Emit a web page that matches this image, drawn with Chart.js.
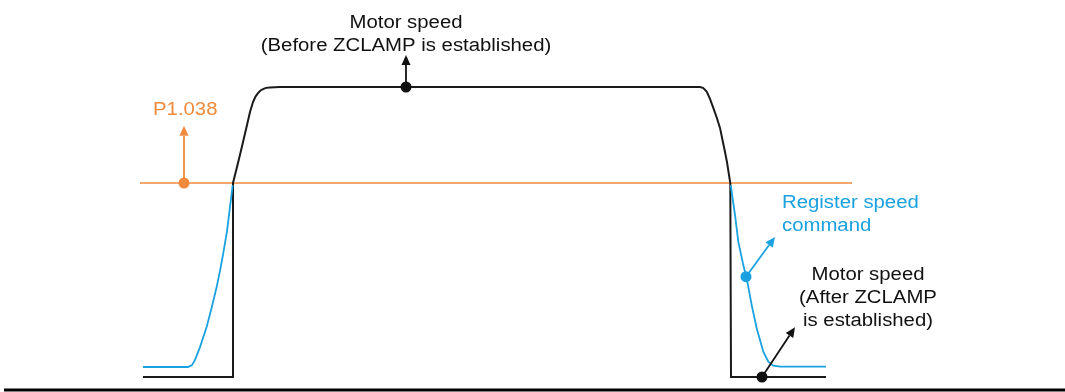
<!DOCTYPE html>
<html>
<head>
<meta charset="utf-8">
<script src="https://cdn.jsdelivr.net/npm/chart.js@4"></script>
<style>
html,body{margin:0;padding:0;background:#fff;}
canvas{display:block;}
</style>
</head>
<body>
<canvas id="c" width="1065" height="392"></canvas>
<script>
// Time axis (arbitrary units) and speed (% of max speed)
const motorBeforeT = [143,233,233,236.5,240,243.5,247,250,253,255.5,258,260.5,263,266,270,280,700,703,706.7,710,713.3,716.7,720,722.5,725,727,728.5,730.3,731,826];
const motorBeforeV = [0,0,66.9,71.7,76.6,81.7,86.9,91.4,94.8,96.7,97.9,98.8,99.3,99.7,99.8,100,100,99.7,98.4,95.9,92.8,89.5,85.9,81.7,77.6,74.1,70.7,66.9,0,0];
const registerRiseT = [143,188,192,195,200,206.7,211.7,216.7,220,223.3,227,230,232.7];
const registerRiseV = [3.45,3.45,4.1,5.9,10.3,17.3,24,31.1,36.6,42.7,50.3,58.7,66.2];
const registerFallT = [730.7,735,738.3,743.3,746.7,751.7,756.7,763.3,768.3,773.3,780,826];
const registerFallV = [66.2,55.9,46.7,38.6,34.0,24.8,16.8,8.7,5.3,3.9,3.6,3.6];
const thresholdT = [140,852];
const thresholdV = 66.9;           // P1.038 level
const markers = [
  {t:406, v:100,  color:'#111111', tip:[406,111.0]},
  {t:184, v:66.9, color:'#f08a3c', tip:[184,86.6]},
  {t:746, v:34.6, color:'#1aa1e0', tip:[775,48.3]},
  {t:762, v:0,    color:'#111111', tip:[795,17.2]}
];
const notes = [
  {lines:['Motor speed','(Before ZCLAMP is established)'], t:406, v:120.3, align:'center', color:'#111111'},
  {lines:['P1.038'], t:153, v:90.3, align:'left', color:'#f08a3c'},
  {lines:['Register speed','command'], t:782, v:58.3, align:'left', color:'#1aa1e0'},
  {lines:['Motor speed','(After ZCLAMP','is established)'], t:868, v:33.4, align:'center', color:'#111111'}
];

const toXY = (ts, vs) => ts.map((t,i)=>({x:t, y:Array.isArray(vs)?vs[i]:vs}));

const annot = {
  id:'annot',
  afterDatasetsDraw(chart){
    const {ctx, scales:{x,y}} = chart;
    ctx.save();
    // baseline rule
    ctx.strokeStyle = '#000'; ctx.lineWidth = 3;
    ctx.beginPath(); ctx.moveTo(x.getPixelForValue(4), y.getPixelForValue(-4.48));
    ctx.lineTo(x.getPixelForValue(1065), y.getPixelForValue(-4.48)); ctx.stroke();
    // arrows
    markers.forEach(m=>{
      const x0 = x.getPixelForValue(m.t), y0 = y.getPixelForValue(m.v);
      const x1 = x.getPixelForValue(m.tip[0]), y1 = y.getPixelForValue(m.tip[1]);
      const ang = Math.atan2(y1-y0, x1-x0);
      const L = 10, W = 4.5;
      const bx = x1 - L*Math.cos(ang), by = y1 - L*Math.sin(ang);
      ctx.strokeStyle = m.color; ctx.fillStyle = m.color; ctx.lineWidth = 1.8;
      ctx.beginPath(); ctx.moveTo(x0,y0); ctx.lineTo(bx,by); ctx.stroke();
      ctx.beginPath(); ctx.moveTo(x1,y1);
      ctx.lineTo(bx + W*Math.sin(ang), by - W*Math.cos(ang));
      ctx.lineTo(bx - W*Math.sin(ang), by + W*Math.cos(ang));
      ctx.closePath(); ctx.fill();
    });
    // texts
    ctx.font = '18px "Liberation Sans", Arial, sans-serif';
    ctx.textBaseline = 'alphabetic';
    const sx = 1.13, lh = 22.8;
    notes.forEach(n=>{
      const px = x.getPixelForValue(n.t), py = y.getPixelForValue(n.v);
      ctx.fillStyle = n.color;
      n.lines.forEach((s,i)=>{
        ctx.save();
        ctx.translate(px, py + i*lh);
        ctx.scale(sx,1);
        ctx.textAlign = n.align;
        ctx.fillText(s, 0, 0);
        ctx.restore();
      });
    });
    ctx.restore();
  }
};

new Chart(document.getElementById('c'), {
  type:'scatter',
  data:{
    datasets:[
      {label:'markers', data:markers.map(m=>({x:m.t,y:m.v})), pointBackgroundColor:markers.map(m=>m.color), pointBorderWidth:0, pointRadius:5.5, showLine:false, order:0},
      {label:'Register speed command', data:toXY(registerRiseT, registerRiseV), showLine:true, borderColor:'#1aa1e0', borderWidth:1.8, pointRadius:0, tension:0, order:1},
      {label:'Register speed command (decel)', data:toXY(registerFallT, registerFallV), showLine:true, borderColor:'#1aa1e0', borderWidth:1.8, pointRadius:0, tension:0, order:1},
      {label:'Motor speed', data:toXY(motorBeforeT, motorBeforeV), showLine:true, borderColor:'#1a1a1a', borderWidth:2, pointRadius:0, tension:0, order:2},
      {label:'P1.038', data:toXY(thresholdT, thresholdV), showLine:true, borderColor:'#f08a3c', borderWidth:1.6, pointRadius:0, order:3}
    ]
  },
  options:{
    responsive:false, animation:false, devicePixelRatio:1,
    layout:{padding:0, autoPadding:false},
    plugins:{legend:{display:false}, tooltip:{enabled:false}},
    scales:{
      x:{type:'linear', min:0, max:1065, display:false},
      y:{type:'linear', min:-5.17, max:130, display:false}
    }
  },
  plugins:[annot]
});
</script>
</body>
</html>
